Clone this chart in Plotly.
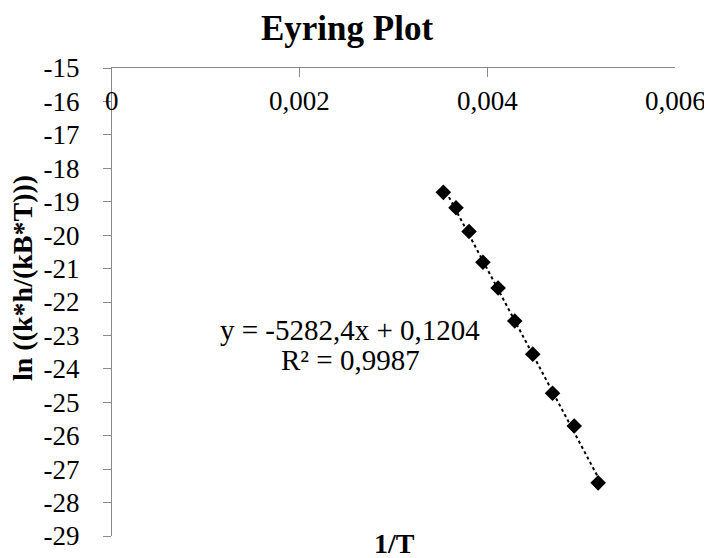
import numpy as np
import plotly.graph_objects as go

# Data
inv_T = [0.003531, 0.003666, 0.003805, 0.003953, 0.004115,
         0.004292, 0.004484, 0.004695, 0.004926, 0.005181]
ln_k = [-18.72, -19.18, -19.89, -20.81, -21.58,
        -22.57, -23.56, -24.73, -25.71, -27.41]

y_tickvals = list(range(-29, -14))
y_ticktext = [str(v).replace("\u2212", "-") for v in y_tickvals]
x_tickvals = [0, 0.002, 0.004, 0.006]
x_ticktext = ["0", "0,002", "0,004", "0,006"]

eq_line1 = "y = -5282,4x + 0,1204"
eq_line2 = "R² = 0,9987"

FONT = "Liberation Serif"

# linear trendline fitted to the data
coef = np.polyfit(inv_T, ln_k, 1)
tx = np.array([min(inv_T), max(inv_T)])
ty = np.polyval(coef, tx)

fig = go.Figure()
fig.add_trace(go.Scatter(x=tx, y=ty, mode="lines",
                         line=dict(color="black", width=2, dash="dot"),
                         showlegend=False, hoverinfo="skip"))
fig.add_trace(go.Scatter(x=inv_T, y=ln_k, mode="markers",
                         marker=dict(symbol="diamond", size=12, color="black"),
                         showlegend=False))

PAGE_W, PAGE_H = 712, 558
OFF = 8  # default page body margin offsets the figure
W, H = PAGE_W - OFF, PAGE_H - OFF
PL, PR, PT, PB = 112, 675, 68, 536   # plot area in page pixels
pw, ph = PR - PL, PB - PT
L, T = PL - OFF, PT - OFF
R, B = W - L - pw, H - T - ph

def px_to_paper(px, py):
    return (px - PL) / pw, (PB - py) / ph

tickfont = dict(family=FONT, size=27, color="black")

fig.update_layout(
    width=W, height=H, autosize=False,
    margin=dict(l=L, r=R, t=T, b=B, pad=0),
    paper_bgcolor="white", plot_bgcolor="white",
    font=dict(family=FONT, size=27, color="black"),
    separators=",.",
    title=dict(text="<b>Eyring Plot</b>", x=(347 - OFF) / W, xanchor="center",
               xref="container", yref="container", y=1 - (28 - OFF) / H, yanchor="middle",
               font=dict(family=FONT, size=35, color="black")),
    xaxis=dict(range=[0, 0.006], side="top", tickvals=x_tickvals,
               ticks="inside", ticklen=9, tickcolor="#898989", tickwidth=1,
               showticklabels=False, automargin=False,
               showline=True, linecolor="#898989", linewidth=1,
               showgrid=False, zeroline=False),
    yaxis=dict(range=[-29, -15], tickvals=y_tickvals, ticktext=y_ticktext,
               ticks="outside", ticklen=8, tickcolor="#898989", tickwidth=1,
               ticklabelstandoff=18, tickfont=tickfont, automargin=False,
               showline=True, linecolor="#898989", linewidth=1,
               showgrid=False, zeroline=False),
)

# x tick labels, placed just below the top axis line (at the -16 level)
for xv, xt in zip(x_tickvals, x_ticktext):
    fig.add_annotation(text=xt, xref="x", yref="y", x=xv, y=-16,
                       showarrow=False, font=tickfont, xanchor="center", yanchor="middle")

def note(text, px, py, size, angle=0):
    x, y = px_to_paper(px, py)
    fig.add_annotation(text=text, xref="paper", yref="paper", x=x, y=y,
                       textangle=angle, showarrow=False,
                       xanchor="center", yanchor="middle",
                       font=dict(family=FONT, size=size, color="black"))

note("<b>ln ((k*h/(kB*T)))</b>", 22, 278, 28, angle=-90)
note("<b>1/T</b>", 394, 543, 28)
note(eq_line1, 350, 330, 29)
note(eq_line2, 350, 360, 29)

fig.write_html("out.html")
